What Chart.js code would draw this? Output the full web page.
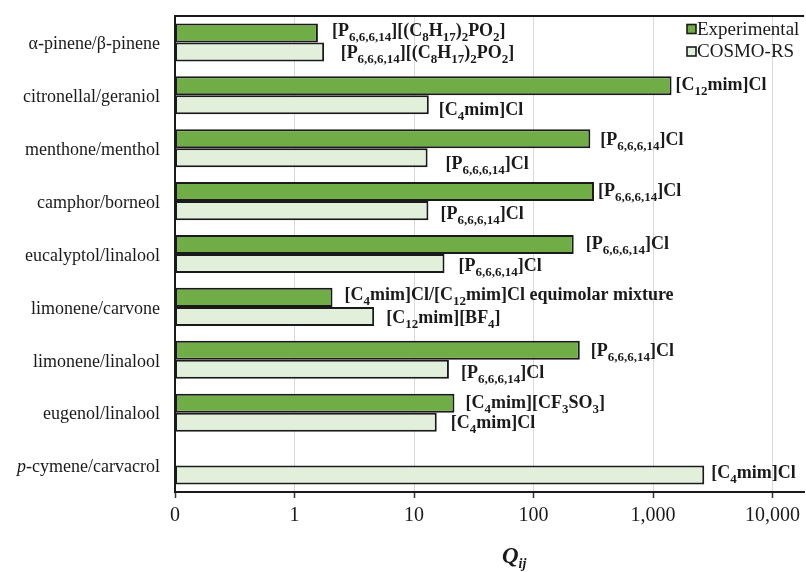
<!DOCTYPE html>
<html>
<head>
<meta charset="utf-8">
<style>
  body { margin: 0; background: #fff; }
  #wrap { width: 806px; height: 572px; }
</style>
</head>
<body>
<div id="wrap"><canvas id="chart"></canvas></div>
<script src="https://cdn.jsdelivr.net/npm/chart.js"></script>
<script>
  // categories, top to bottom
  const categories = [
    "α-pinene/β-pinene",
    "citronellal/geraniol",
    "menthone/menthol",
    "camphor/borneol",
    "eucalyptol/linalool",
    "limonene/carvone",
    "limonene/linalool",
    "eugenol/linalool",
    "<i>p</i>-cymene/carvacrol",
  ];

  // Q_ij values
  const experimental = [1.57, 1430, 299, 321, 217, 2.08, 244, 21.8, null];
  const cosmoRS = [1.77, 13.3, 13.0, 13.2, 18.0, 4.64, 19.6, 15.5, 2685];

  // ionic liquid shown at each bar (_{..} = subscript)
  const expLabels = [
    "[P_{6,6,6,14}][(C_{8}H_{17})_{2}PO_{2}]",
    "[C_{12}mim]Cl",
    "[P_{6,6,6,14}]Cl",
    "[P_{6,6,6,14}]Cl",
    "[P_{6,6,6,14}]Cl",
    "[C_{4}mim]Cl/[C_{12}mim]Cl equimolar mixture",
    "[P_{6,6,6,14}]Cl",
    "[C_{4}mim][CF_{3}SO_{3}]",
    null,
  ];
  const cosmoLabels = [
    "[P_{6,6,6,14}][(C_{8}H_{17})_{2}PO_{2}]",
    "[C_{4}mim]Cl",
    "[P_{6,6,6,14}]Cl",
    "[P_{6,6,6,14}]Cl",
    "[P_{6,6,6,14}]Cl",
    "[C_{12}mim][BF_{4}]",
    "[P_{6,6,6,14}]Cl",
    "[C_{4}mim]Cl",
    "[C_{4}mim]Cl",
  ];

  const xTicks = [0.1, 1, 10, 100, 1000, 10000];

  // label nudges (px) relative to bar end / bar centre
  const expDx = [14, 4, 10, 4, 12, 12, 11, 11, 0];
  const expDy = [-2.5, -2, 0, -2, -1, -3, 0, -1, 0];
  const cosDx = [16.5, 10, 18, 12, 14, 12, 12, 14, 7];
  const cosDy = [0, 4, 5, 2, 1, 1, 2.5, 0, -3];

  const SERIF = '"Liberation Serif", "Times New Roman", serif';
  const INK = "#1a1a1a";
  Chart.defaults.font.family = SERIF;
  Chart.defaults.color = INK;

  // split "abc_{12}def" into [text, isSub] pieces
  function splitSub(str) {
    const parts = [];
    const re = /_\{([^}]*)\}/g;
    let last = 0, m;
    while ((m = re.exec(str))) {
      if (m.index > last) parts.push([str.slice(last, m.index), false]);
      parts.push([m[1], true]);
      last = re.lastIndex;
    }
    if (last < str.length) parts.push([str.slice(last), false]);
    return parts;
  }

  function drawRich(ctx, str, x, y) {
    let cx = x;
    ctx.textAlign = "left";
    ctx.textBaseline = "alphabetic";
    splitSub(str).forEach(([t, sub]) => {
      ctx.font = sub ? "bold 13px " + SERIF : "bold 18px " + SERIF;
      ctx.fillText(t, cx, sub ? y + 5 : y);
      cx += ctx.measureText(t).width;
    });
  }

  const decor = {
    id: "decor",
    afterDatasetsDraw(chart) {
      const { ctx, chartArea: a, scales } = chart;
      ctx.save();
      ctx.fillStyle = INK;

      // top frame line
      ctx.strokeStyle = INK;
      ctx.lineWidth = 2;
      ctx.beginPath();
      ctx.moveTo(a.left - 1, a.top);
      ctx.lineTo(a.right, a.top);
      ctx.stroke();

      // bar labels
      [
        [0, experimental, expLabels, expDx, expDy],
        [1, cosmoRS, cosmoLabels, cosDx, cosDy],
      ].forEach(([di, vals, labels, dx, dy]) => {
        chart.getDatasetMeta(di).data.forEach((bar, i) => {
          if (vals[i] == null || !labels[i]) return;
          drawRich(ctx, labels[i], bar.x + dx[i], bar.y + dy[i] + 6);
        });
      });

      // category labels (with italic part)
      ctx.textBaseline = "middle";
      categories.forEach((c, i) => {
        const y = scales.y.getPixelForTick(i) + 2;
        const parts = c.split(/(<i>.*?<\/i>)/).filter(Boolean).map((p) =>
          p.startsWith("<i>") ? [p.slice(3, -4), "italic 18px " + SERIF] : [p, "18px " + SERIF]
        );
        let w = 0;
        parts.forEach(([t, f]) => { ctx.font = f; w += ctx.measureText(t).width; });
        let x = 160 - w;
        ctx.textAlign = "left";
        parts.forEach(([t, f]) => {
          ctx.font = f;
          ctx.fillText(t, x, y);
          x += ctx.measureText(t).width;
        });
      });

      // legend
      const leg = [["Experimental", "#70AD47", 29], ["COSMO-RS", "#E2EFDA", 51.5]];
      leg.forEach(([t, col, y]) => {
        ctx.fillStyle = col;
        ctx.fillRect(687, y - 4.5, 9, 9);
        ctx.lineWidth = 1.6;
        ctx.strokeStyle = INK;
        ctx.strokeRect(687, y - 4.5, 9, 9);
        ctx.fillStyle = INK;
        ctx.font = "19px " + SERIF;
        ctx.textAlign = "left";
        ctx.textBaseline = "middle";
        ctx.fillText(t, 697, y + 1);
      });

      // axis title Q_ij
      ctx.textBaseline = "alphabetic";
      ctx.font = "italic bold 23px " + SERIF;
      ctx.fillText("Q", 502, 563);
      const qw = ctx.measureText("Q").width;
      ctx.font = "italic bold 14px " + SERIF;
      ctx.fillText("ij", 502 + qw, 568);

      ctx.restore();
    },
  };

  const ctx = document.getElementById("chart").getContext("2d");

  new Chart(ctx, {
    type: "bar",
    data: {
      labels: categories,
      datasets: [
        {
          label: "Experimental",
          data: experimental,
          backgroundColor: "#70AD47",
          borderColor: INK,
          borderWidth: 2,
          borderSkipped: false,
        },
        {
          label: "COSMO-RS",
          data: cosmoRS,
          backgroundColor: "#E2EFDA",
          borderColor: INK,
          borderWidth: 2,
          borderSkipped: false,
        },
      ],
    },
    options: {
      indexAxis: "y",
      responsive: true,
      maintainAspectRatio: false,
      animation: false,
      categoryPercentage: 0.72,
      barPercentage: 1.0,
      layout: { padding: { top: 16, right: 0, bottom: 0, left: 0 } },
      plugins: {
        legend: { display: false },
        tooltip: { enabled: false },
      },
      scales: {
        x: {
          type: "logarithmic",
          min: 0.1,
          max: 18400,
          afterBuildTicks: (s) => { s.ticks = xTicks.map((v) => ({ value: v })); },
          afterFit: (s) => { s.height = 80; },
          ticks: {
            font: { size: 20 },
            color: INK,
            padding: 6,
            maxRotation: 0,
            callback: (v) => (v < 1 ? "0" : Number(v).toLocaleString("en-US")),
          },
          grid: { color: "#d9d9d9", lineWidth: 1, tickLength: 6, tickColor: "#333", tickWidth: 1.5 },
          border: { color: INK, width: 2 },
        },
        y: {
          type: "category",
          afterFit: (s) => { s.width = 175; },
          ticks: { display: false },
          grid: { display: false },
          border: { color: INK, width: 2 },
        },
      },
    },
    plugins: [decor],
  });
</script>
</body>
</html>
